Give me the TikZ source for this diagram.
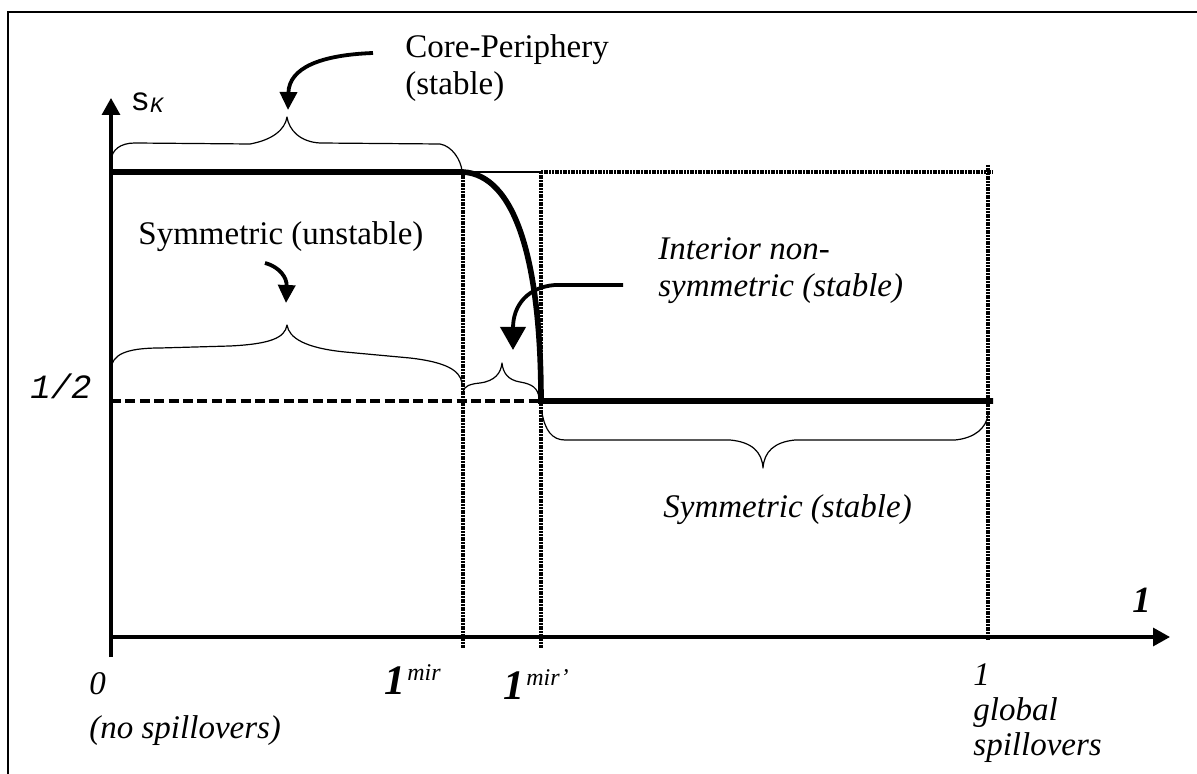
\documentclass[tikz,border=0pt]{standalone}
\usepackage{fontspec}
\setmainfont{Liberation Serif}
\newfontfamily\monofont{Liberation Mono}
\usetikzlibrary{arrows.meta}
\begin{document}
\begin{tikzpicture}[x=0.5pt,y=-0.5pt,
  txt/.style={inner sep=0pt, anchor=base west, font=\fontsize{16.5}{20}\selectfont},
  itxt/.style={inner sep=0pt, anchor=base west, font=\fontsize{16.5}{20}\selectfont\itshape},
  bigone/.style={inner sep=0pt, anchor=base west, font=\fontsize{21}{24}\selectfont\bfseries\itshape},
  axisline/.style={line width=1.6pt, -{Triangle[length=8.5pt,width=9pt]}},
  thickline/.style={line width=2.8pt},
  dotv/.style={line width=1.8pt, dash pattern=on 1pt off 0.35pt},
  dashedl/.style={line width=1.7pt, dash pattern=on 5pt off 2.2pt},
  bracel/.style={line width=0.6pt, line join=round},
  curvarrow/.style={line width=1.9pt, -{Triangle[length=9pt,width=8.5pt]}},
  bigarrow/.style={line width=1.9pt, -{Triangle[length=11.5pt,width=12.5pt]}},
]
\useasboundingbox (0,0) rectangle (1197,774);
% frame
\draw[line width=0.6pt] (8,774) -- (8,12) -- (1197,12);

% axes
\coordinate (ybot) at (111,657);
\coordinate (ytip) at (111,98);
\coordinate (xorg) at (111,637);
\coordinate (xtip) at (1170,637);
\draw[axisline] (ybot) -- (ytip);
\draw[axisline] (xorg) -- (xtip);

% key points
\coordinate (cpL) at (111,172);
\coordinate (m1t) at (463,172);
\coordinate (m2t) at (541,172);
\coordinate (gt) at (993,172);
\coordinate (m1b) at (463,648);
\coordinate (m2b) at (541,648);
\coordinate (g1t) at (988,165);
\coordinate (g1b) at (988,640);
\coordinate (hL) at (111,401);
\coordinate (h2) at (541,401);
\coordinate (hR) at (993,401);

% dotted verticals and top
\draw[dotv] (m1t) -- (m1b);
\draw[dotv] (m2t) -- (m2b);
\draw[dotv] (g1t) -- (g1b);
\draw[dotv] (m2t) -- (gt);
\draw[line width=0.6pt] (m1t) -- (m2t);

% half level
\draw[dashedl] (hL) -- (h2);

% thick equilibrium path
\draw[thickline] (cpL) -- (m1t) .. controls (515,175) and (541,260) .. (h2) -- (hR);

% braces
\draw[bracel] (111,160) .. controls (112,150) and (120,143) .. (135,143) -- (250,144)
  .. controls (272,140) and (285,130) .. (287,117)
  .. controls (289,130) and (300,142) .. (320,143) -- (440,144)
  .. controls (452,146) and (461,160) .. (462,171);
\draw[bracel] (111,369) .. controls (112,355) and (125,348) .. (160,348) -- (230,346)
  .. controls (270,344) and (285,338) .. (287,325)
  .. controls (289,338) and (305,348) .. (345,352) -- (410,358)
  .. controls (445,362) and (460,370) .. (462,383);
\draw[bracel] (463,392) .. controls (464,386) and (470,384) .. (480,383)
  .. controls (495,381) and (501,373) .. (502,363)
  .. controls (503,373) and (508,380) .. (520,382)
  .. controls (532,384) and (538,388) .. (539,398);
\draw[bracel] (542,413) .. controls (545,430) and (552,440) .. (565,440) -- (730,440)
  .. controls (752,442) and (762,452) .. (763,468)
  .. controls (764,452) and (774,442) .. (795,440) -- (955,440)
  .. controls (975,438) and (986,428) .. (988,415);

% labels
\node[txt] (cp1) at (405,58) {Core-Periphery};
\node[txt] (cp2) at (405,95) {(stable)};
\node[txt] (su) at (138,245) {Symmetric (unstable)};
\node[itxt] (in1) at (658,260) {Interior non-};
\node[itxt] (in2) at (658,297) {symmetric (stable)};
\node[itxt] (ss) at (663,517) {Symmetric (stable)};
\node[itxt] (z0) at (89,694) {0};
\node[itxt] (z1) at (89,738) {(no spillovers)};
\node[itxt] (g0) at (973,685) {1};
\node[itxt] (g1) at (973,720) {global};
\node[itxt] (g2) at (973,755) {spillovers};
\node[bigone] (lm) at (384,694) {1\kern1pt{\fontsize{12}{12}\selectfont\mdseries\itshape\raisebox{7pt}{mir}}};
\node[bigone] (lmp) at (503,699) {1\kern1pt{\fontsize{12}{12}\selectfont\mdseries\itshape\raisebox{7pt}{mir’}}};
\node[inner sep=0pt, anchor=base west, font=\fontsize{18.5}{20}\selectfont\bfseries\itshape] (xl) at (1132,612) {1};
\node[inner sep=0pt, anchor=base west, font=\monofont\fontsize{17}{18}\selectfont\itshape] (half) at (30,399) {1/2};
\node[inner sep=0pt, anchor=base west, font=\monofont\fontsize{16.5}{18}\selectfont] (sk) at (130,111) {s\raisebox{-1pt}{\fontsize{11}{11}\selectfont\itshape K}};

% curved pointer arrows
\coordinate (a1s) at (373,53);
\coordinate (a1e) at (288,110);
\draw[curvarrow] (a1s) .. controls (320,55) and (289,68) .. (a1e);
\coordinate (a2s) at (265,263);
\coordinate (a2e) at (286,303);
\draw[curvarrow] (a2s) .. controls (280,267) and (287,278) .. (a2e);
\coordinate (a3s) at (623,285);
\coordinate (a3m) at (555,285);
\coordinate (a3e) at (513,350);
\draw[bigarrow] (a3s) -- (a3m) .. controls (528,287) and (513,305) .. (a3e);
\end{tikzpicture}
\end{document}
